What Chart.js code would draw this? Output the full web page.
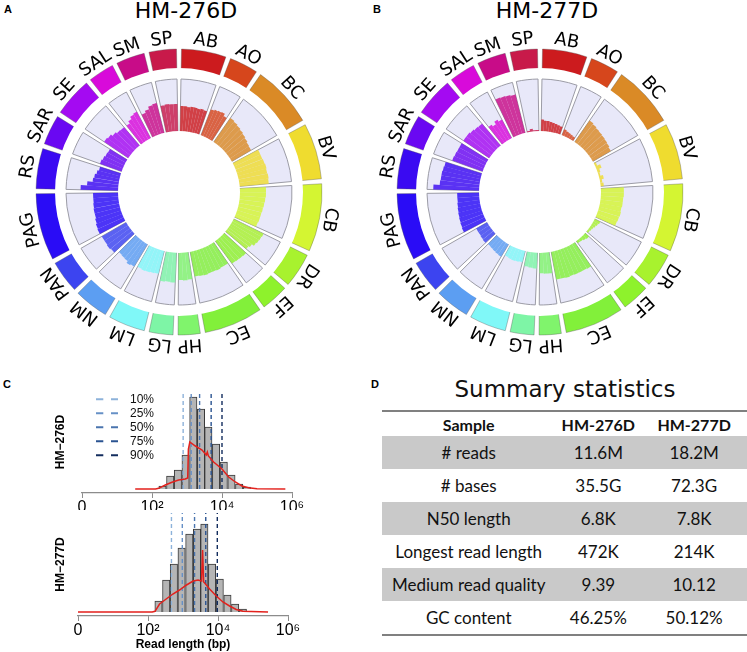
<!DOCTYPE html>
<html>
<head>
<meta charset="utf-8">
<script src="https://cdn.jsdelivr.net/npm/chart.js@4.4.1/dist/chart.umd.min.js"></script>
<style>
  body { margin: 0; background: #fff; }
  #page { position: relative; width: 747px; height: 652px; overflow: hidden; background: #fff; }
  canvas { position: absolute; }
  .tag { position: absolute; font: bold 11px "Liberation Sans", Arial, sans-serif; color: #000; }
  .ctitle { position: absolute; top: 0; font: 22px/22px "DejaVu Sans", sans-serif; transform: translateX(-50%); white-space: nowrap; color: #000; }
  #stitle { position: absolute; left: 565px; top: 378px; font: 23px/23px "DejaVu Sans", sans-serif; transform: translateX(-50%); white-space: nowrap; color: #111; }
  #stats { position: absolute; left: 382px; top: 410px; border-collapse: collapse; table-layout: fixed; color: #111; font-family: Lato, sans-serif; }
  #stats th { font: bold 16px Lato, sans-serif; height: 24px; padding: 0; text-align: center; }
  #stats td { font-size: 17px; height: 33px; padding: 0; text-align: center; }
  #stats tr.g td { background: #c9c9c9; }
  #stats thead tr { border-top: 2px solid #808080; }
  #stats tbody tr:last-child { border-bottom: 2px solid #808080; }
</style>
</head>
<body>
<div id="page">
  <div class="tag" style="left:4px;top:3px">A</div>
  <div class="tag" style="left:373px;top:3px">B</div>
  <div class="tag" style="left:3px;top:378px">C</div>
  <div class="tag" style="left:371px;top:378px">D</div>
  <div class="ctitle" style="left:186px">HM-276D</div>
  <div class="ctitle" style="left:547px">HM-277D</div>
  <canvas id="circA" width="350" height="350" style="left:4px;top:17px"></canvas>
  <canvas id="circB" width="350" height="350" style="left:365px;top:17px"></canvas>
  <canvas id="histTop" width="320" height="130" style="left:0;top:380px"></canvas>
  <canvas id="histBot" width="320" height="147" style="left:0;top:505px"></canvas>
  <div id="stitle">Summary statistics</div>
  <table id="stats"></table>
</div>

<script>
// circos panels: genomes around the ring, coverage bars in the inner track
const SEGMENTS = ['AB', 'AO', 'BC', 'BV', 'CB', 'DR', 'EF', 'EC', 'HP', 'LG', 'LM', 'NM', 'PAN', 'PAG', 'RS', 'SAR', 'SE', 'SAL', 'SM', 'SP'];
const SEG_SIZE = [20.4, 13.1, 28.3, 25.6, 31, 15.8, 12.6, 26.9, 10.1, 10.9, 16.8, 15.7, 14.8, 30.6, 18.4, 13.7, 17.8, 11.9, 13.1, 12.5];
const SEG_COLORS = ['#cc1b1e', '#d6461c', '#da8a26', '#efdc2f', '#d4f532', '#a8f22e', '#8ef22c', '#82f03a', '#80f46c', '#7ef5a6',
  '#80f8f8', '#5c9ef2', '#3c44f0', '#2a0cf6', '#3a0af2', '#6a08f2', '#a40af2', '#d80ada', '#c80c88', '#c81a4a'];

// bar heights as fraction of the track, clockwise within each genome
const BARS_276D = [
  [0.48, 0.48, 0.47, 0.48, 0.48, 0.47, 0.48, 0.47],
  [0.53, 0.55, 0.56, 0.57, 0.52],
  [0.56, 0.54, 0.52, 0.5, 0.48, 0.46, 0.44, 0.43],
  [0.55, 0.55, 0.56, 0.57, 0.56, 0.57, 0.56],
  [0.5, 0.5, 0.49, 0.48, 0.47, 0.46, 0.46, 0.45],
  [0.64, 0.63, 0.62, 0.6, 0.55, 0.52],
  [0.57, 0.56, 0.55, 0.54],
  [0.49, 0.49, 0.5, 0.49, 0.49, 0.5, 0.49, 0.48],
  [0.52, 0.53, 0.52],
  [0.57, 0.56, 0.57],
  [0.45, 0.46, 0.47, 0.48, 0.47],
  [0.5, 0.52, 0.48, 0.47, 0.46],
  [0.53, 0.55, 0.54, 0.54],
  [0.55, 0.54, 0.52, 0.5, 0.5, 0.49, 0.48, 0.48],
  [0.72, 0.6, 0.5, 0.48, 0.45, 0.42],
  [0.44, 0.42, 0.4, 0.39],
  [0.56, 0.54, 0.5, 0.47, 0.46],
  [0.45, 0.5, 0.55, 0.57],
  [0.48, 0.52, 0.57, 0.59],
  [0.52, 0.53, 0.52, 0.52]
];
const BARS_277D = [
  [0.22, 0.2, 0.2, 0.19, 0.18, 0.17, 0.16, 0.15],
  [0.12, 0.1, 0.09, 0.08, 0.07],
  [0.5, 0.48, 0.46, 0.45, 0.44, 0.43, 0.42, 0.4],
  [0.04, 0.1, 0.05, 0.03, 0.08, 0.04, 0.06],
  [0.44, 0.44, 0.43, 0.43, 0.42, 0.43, 0.42, 0.41],
  [0.12, 0.1, 0.08, 0.06, 0.05, 0.04],
  [0.1, 0.08, 0.06, 0.05],
  [0.56, 0.55, 0.55, 0.55, 0.54, 0.55, 0.54, 0.54],
  [0.4, 0.4, 0.39],
  [0.3, 0.29, 0.28],
  [0.22, 0.23, 0.24, 0.23, 0.22],
  [0.28, 0.27, 0.26, 0.25, 0.24],
  [0.26, 0.25, 0.24, 0.24],
  [0.48, 0.47, 0.46, 0.45, 0.44, 0.43, 0.42, 0.42],
  [0.88, 0.76, 0.75, 0.75, 0.74, 0.73],
  [0.62, 0.61, 0.6, 0.6],
  [0.6, 0.6, 0.58, 0.56, 0.55],
  [0.42, 0.38, 0.44, 0.4],
  [0.8, 0.79, 0.78, 0.76],
  [0.02, 0.05, 0.02, 0.02]
];

// read length histograms (log10 bp)
const BIN_CENTERS = [2.30, 2.52, 2.74, 2.96, 3.18, 3.40, 3.61, 3.83, 4.05, 4.27, 4.49, 4.71];
const HIST_276D = [3, 13, 19, 34, 92, 80, 62, 45, 27, 14, 5, 2];
const HIST_277D = [11, 32, 48, 64, 78, 83, 88, 48, 33, 17, 8, 3];
const DENS_X_276D = [1.52, 2.1, 2.19, 2.38, 2.57, 2.76, 2.95, 3.02, 3.04, 3.08, 3.24, 3.43, 3.55, 3.58, 3.61, 3.76, 4.0, 4.19, 4.38, 4.57, 4.76, 5.0, 5.81];
const DENS_Y_276D = [0, 0, 0.7, 4, 6.7, 9, 10, 11, 40, 47, 43, 39, 34, 37, 33, 27, 20, 12, 7, 3, 1.3, 0.3, 0];
const DENS_X_277D = [0, 2.12, 2.2, 2.33, 2.52, 2.71, 2.9, 3.1, 3.29, 3.43, 3.53, 3.56, 3.59, 3.62, 3.76, 3.95, 4.14, 4.33, 4.52, 4.71, 5.43];
const DENS_Y_277D = [0, 0, 0.7, 8, 13, 18, 22, 27, 31, 32, 31, 62, 30, 29, 23, 16, 10, 6, 2.5, 0.7, 0];
const PCT_LABELS = ['10%', '25%', '50%', '75%', '90%'];
const PCT_276D = [2.89, 3.12, 3.36, 3.69, 4.0];
const PCT_277D = [2.67, 2.98, 3.33, 3.65, 3.98];
const PCT_COLORS = ['#8db2da', '#6690c6', '#4a74ae', '#2a5391', '#132d5e'];

// summary table
const STAT_HEAD = ['Sample', 'HM-276D', 'HM-277D'];
const STAT_ROWS = ['# reads', '# bases', 'N50 length', 'Longest read length', 'Medium read quality', 'GC content'];
const STAT_276D = ['11.6M', '35.5G', '6.8K', '472K', '9.39', '46.25%'];
const STAT_277D = ['18.2M', '72.3G', '7.8K', '214K', '10.12', '50.12%'];

Chart.defaults.font.family = '"Liberation Sans", Arial, sans-serif';
Chart.defaults.color = '#000';

const GAP = 2;            // degrees between genomes
const TRACK_IN = 61;
const TRACK_OUT = 113;
const RING_IN = 124;
const RING_OUT = 143;
const LABEL_R = 153;
const R_MAX = 165;

function withAlpha(hex, a) {
  const n = parseInt(hex.slice(1), 16);
  return `rgba(${n >> 16},${(n >> 8) & 255},${n & 255},${a})`;
}

const ringLabels = {
  id: 'ringLabels',
  afterDraw(chart) {
    const ctx = chart.ctx;
    const r = chart.scales.r;
    const dist = r.getDistanceFromCenterForValue(LABEL_R);
    const arcs = chart.getDatasetMeta(4).data;
    ctx.save();
    ctx.font = '18px "DejaVu Sans"';
    ctx.fillStyle = '#000';
    ctx.textAlign = 'center';
    ctx.textBaseline = 'middle';
    SEGMENTS.forEach((name, i) => {
      const arc = arcs[i * 3 + 1];
      const mid = (arc.startAngle + arc.endAngle) / 2;
      ctx.save();
      ctx.translate(r.xCenter + Math.cos(mid) * dist, r.yCenter + Math.sin(mid) * dist);
      ctx.rotate(mid + Math.PI / 2);
      ctx.fillText(name, 0, 0);
      ctx.restore();
    });
    ctx.restore();
  }
};

function circos(id, bars) {
  const total = SEG_SIZE.reduce((a, b) => a + b, 0);
  const free = 360 - GAP * SEGMENTS.length;
  const segAng = [], ringVal = [], ringCol = [], trackVal = [], trackCol = [];
  const barAng = [], barVal = [], barCol = [];
  const clear = 'rgba(0,0,0,0)';

  SEGMENTS.forEach((name, i) => {
    const a = SEG_SIZE[i] / total * free;
    segAng.push(GAP / 2, a, GAP / 2);
    ringVal.push(0, RING_OUT, 0);
    ringCol.push(clear, SEG_COLORS[i], clear);
    trackVal.push(0, TRACK_OUT, 0);
    trackCol.push(clear, '#e8e8f9', clear);

    barAng.push(GAP / 2); barVal.push(0); barCol.push(clear);
    bars[i].forEach(h => {
      barAng.push(a / bars[i].length);
      barVal.push(TRACK_IN + h * (TRACK_OUT - TRACK_IN));
      barCol.push(withAlpha(SEG_COLORS[i], 0.82));
    });
    barAng.push(GAP / 2); barVal.push(0); barCol.push(clear);
  });

  const edge = (cols, c) => cols.map(x => x === clear ? clear : c);

  new Chart(document.getElementById(id), {
    type: 'polarArea',
    data: {
      datasets: [
        { data: [TRACK_IN], angle: 360, backgroundColor: '#fff', borderWidth: 0 },
        { data: barVal, angle: c => barAng[c.dataIndex], backgroundColor: barCol, borderWidth: 0 },
        { data: trackVal, angle: c => segAng[c.dataIndex], backgroundColor: trackCol,
          borderColor: edge(trackCol, '#9c9ca6'), borderWidth: 1 },
        { data: [RING_IN], angle: 360, backgroundColor: '#fff', borderWidth: 0 },
        { data: ringVal, angle: c => segAng[c.dataIndex], backgroundColor: ringCol,
          borderColor: edge(ringCol, 'rgba(80,80,80,0.45)'), borderWidth: 0.8 }
      ]
    },
    options: {
      responsive: false,
      animation: false,
      layout: { padding: 10 },
      scales: { r: { display: false, min: 0, max: R_MAX } },
      plugins: { legend: { display: false }, tooltip: { enabled: false } }
    },
    plugins: [ringLabels]
  });
}

circos('circA', BARS_276D);
circos('circB', BARS_277D);

// dashed legend sample, drawn offset inside a wider box
function dashImage(color) {
  const c = document.createElement('canvas');
  c.width = 40; c.height = 4;
  const g = c.getContext('2d');
  g.strokeStyle = color;
  g.lineWidth = 2;
  g.setLineDash([7.3, 7.7]);
  g.beginPath(); g.moveTo(12, 2); g.lineTo(34, 2); g.stroke();
  return c;
}

const SUP = { 2: '\u00b2', 4: '\u2074', 6: '\u2076' };

function histChart(id, cfg) {
  const datasets = [{
    type: 'line',
    data: cfg.densX.map((x, i) => ({ x, y: cfg.densY[i] })),
    borderColor: '#e3211c', borderWidth: 1.5, pointRadius: 0, tension: 0
  }];
  PCT_LABELS.forEach((lab, i) => datasets.push({
    type: 'line', label: lab,
    data: [{ x: cfg.pct[i], y: 0 }, { x: cfg.pct[i], y: cfg.ymax }],
    borderColor: PCT_COLORS[i], borderWidth: 1.4, borderDash: [4, 3],
    pointRadius: 0, pointStyle: dashImage(PCT_COLORS[i])
  }));
  datasets.push({
    type: 'bar',
    data: BIN_CENTERS.map((x, i) => ({ x, y: cfg.hist[i] })),
    backgroundColor: '#b5b5b5', borderColor: '#3a3a3a', borderWidth: 1,
    barPercentage: 1, categoryPercentage: 1
  });

  new Chart(document.getElementById(id), {
    type: 'bar',
    data: { datasets },
    options: {
      responsive: false,
      animation: false,
      layout: { padding: { top: cfg.padTop, right: cfg.padRight, left: 0, bottom: 0 } },
      scales: {
        x: {
          type: 'linear', min: 0, max: 6, offset: false,
          ticks: { stepSize: 2, autoSkip: false, maxRotation: 0, padding: 0, color: '#000',
            font: { size: 16 }, callback: v => v === 0 ? '0' : '10' + SUP[v] },
          grid: { display: true, offset: false, drawOnChartArea: false, drawTicks: true, tickLength: 5, color: '#8c8c8c' },
          border: { display: true, color: '#8c8c8c', width: 1.2 },
          title: { display: !!cfg.xTitle, text: cfg.xTitle, color: '#000',
            font: { size: 12, weight: 'bold' }, padding: { top: 0, bottom: 0 } },
          afterFit: s => { s.height = cfg.xAxisH; }
        },
        y: {
          min: -4, max: cfg.ymax,
          ticks: { display: false },
          grid: { display: false },
          border: { display: false },
          title: { display: true, text: cfg.yTitle, color: '#000',
            font: { size: 12, weight: 'bold' }, padding: { top: 53, bottom: 0 } },
          afterFit: s => { s.width = cfg.axisW; }
        }
      },
      plugins: {
        tooltip: { enabled: false },
        legend: {
          display: cfg.legend, position: 'chartArea', align: 'start',
          title: { display: true, text: ' ', font: { size: 1 }, padding: { top: 10, bottom: 0 } },
          labels: { usePointStyle: true, pointStyleWidth: 40, boxHeight: 12, padding: 2,
            color: '#111', font: { size: 12 },
            filter: item => item.datasetIndex >= 1 && item.datasetIndex <= 5 }
        }
      }
    }
  });
}

histChart('histTop', { hist: HIST_276D, densX: DENS_X_276D, densY: DENS_Y_276D, pct: PCT_276D,
  ymax: 98, yTitle: 'HM\u2212276D', xTitle: '', legend: true,
  padTop: 11, padRight: 28, axisW: 82, xAxisH: 17 });
histChart('histBot', { hist: HIST_277D, densX: DENS_X_277D, densY: DENS_Y_277D, pct: PCT_277D,
  ymax: 99, yTitle: 'HM\u2212277D', xTitle: 'Read length (bp)', legend: false,
  padTop: 8, padRight: 32, axisW: 78, xAxisH: 36 });

// summary statistics table
const table = document.getElementById('stats');
let html = '<colgroup><col style="width:174px"><col style="width:86px"><col style="width:106px"></colgroup>';
html += '<thead><tr>' + STAT_HEAD.map(h => `<th>${h}</th>`).join('') + '</tr></thead><tbody>';
STAT_ROWS.forEach((row, i) => {
  html += `<tr class="${i % 2 === 0 ? 'g' : ''}"><td>${row}</td><td>${STAT_276D[i]}</td><td>${STAT_277D[i]}</td></tr>`;
});
table.innerHTML = html + '</tbody>';
</script>
</body>
</html>
